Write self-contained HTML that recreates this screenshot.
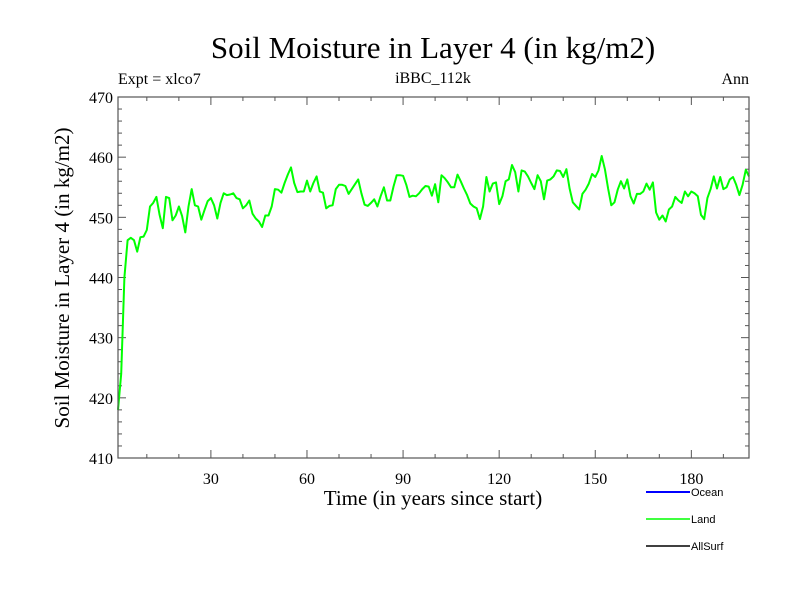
<!DOCTYPE html>
<html><head><meta charset="utf-8"><style>
body{margin:0;background:#fff}
svg text{font-family:"Liberation Serif",serif;fill:#000}
</style></head><body>
<svg id="chart" width="800" height="600" viewBox="0 0 800 600" xmlns="http://www.w3.org/2000/svg">
<rect width="800" height="600" fill="#fff"/>
<text x="433" y="58" font-size="31" text-anchor="middle">Soil Moisture in Layer 4 (in kg/m2)</text>
<text x="118" y="84" font-size="16">Expt = xlco7</text>
<text x="433" y="83" font-size="16" text-anchor="middle">iBBC_112k</text>
<text x="749" y="84" font-size="16" text-anchor="end">Ann</text>
<text transform="translate(69,278) rotate(-90)" font-size="21" text-anchor="middle">Soil Moisture in Layer 4 (in kg/m2)</text>
<text x="433" y="505" font-size="21" text-anchor="middle">Time (in years since start)</text>
<g id="ticks"></g>
<g id="series"></g>
<rect x="118" y="97" width="631" height="361" fill="none" stroke="#555" stroke-width="1.2"/>
<g font-family="Liberation Sans, sans-serif">
<line x1="646" y1="492" x2="690" y2="492" stroke="#0000ff" stroke-width="2"/>
<text x="691" y="496" font-size="11" style="font-family:'Liberation Sans',sans-serif">Ocean</text>
<line x1="646" y1="519" x2="690" y2="519" stroke="#00ff00" stroke-width="1.5"/>
<text x="691" y="523" font-size="11" style="font-family:'Liberation Sans',sans-serif">Land</text>
<line x1="646" y1="546" x2="690" y2="546" stroke="#000" stroke-width="1.5"/>
<text x="691" y="550" font-size="11" style="font-family:'Liberation Sans',sans-serif">AllSurf</text>
</g>
</svg>
<script>
const landValues = [418,424,440,446.2,446.6,446.2,444.3,446.7,446.8,447.9,451.8,452.4,453.4,450.4,448.2,453.4,453.2,449.5,450.3,451.8,450.2,447.5,451.8,454.7,452.0,451.8,449.6,451.2,452.7,453.2,452.0,449.8,452.4,454.0,453.7,453.8,454.0,453.2,453.0,451.5,452.0,452.8,450.6,449.8,449.3,448.4,450.3,450.3,451.8,454.7,454.6,454.1,455.7,457.1,458.3,455.7,454.2,454.3,454.3,456.1,454.3,455.7,456.8,454.3,454.1,451.5,451.9,452.0,454.7,455.4,
455.4,455.2,453.9,454.7,455.5,456.3,454.0,452.1,451.9,452.4,453.0,451.8,453.5,455.0,452.8,452.8,455.1,457.0,457.0,456.9,455.4,453.4,453.6,453.5,454.0,454.7,455.2,455.1,453.6,455.5,452.5,457.0,456.5,455.8,455.0,455.0,457.1,456.0,454.8,453.7,452.3,451.8,451.5,449.7,451.8,456.7,454.3,455.6,455.8,452.2,453.5,456.0,456.3,458.7,457.5,454.3,457.8,457.6,456.8,455.7,454.7,457.0,456.0,453.0,456.1,456.3,456.8,457.8,457.7,456.7,458.0,454.8,452.5,451.9,451.3,453.9,454.6,455.6,457.2,456.7,457.8,460.2,458.0,454.8,452.0,452.5,454.6,456.0,454.8,456.3,453.5,452.3,453.9,453.9,454.3,455.6,454.6,455.8,450.8,449.6,450.3,449.3,451.3,451.8,453.4,452.8,452.4,454.3,453.5,454.3,454.0,453.5,450.4,449.7,453.2,454.7,456.8,454.8,456.7,454.7,455.0,456.3,456.7,455.4,453.7,455.4,457.9,456.8];
const xTickLabels = [30,60,90,120,150,180];
const yTickLabels = [410,420,430,440,450,460,470];
const xMin=1, xMax=198, yMin=410, yMax=470;
const L=118,R=749,T=97,B=458;
function xs(v){return L+(v-xMin)/(xMax-xMin)*(R-L);}
function ys(v){return B-(v-yMin)/(yMax-yMin)*(B-T);}
const NS='http://www.w3.org/2000/svg';
const tg=document.getElementById('ticks');
function ln(x1,y1,x2,y2,name){const l=document.createElementNS(NS,'line');
l.setAttribute('x1',x1);l.setAttribute('y1',y1);l.setAttribute('x2',x2);l.setAttribute('y2',y2);
l.setAttribute('stroke','#555');l.setAttribute('stroke-width','1');


tg.appendChild(l);}
function tx(x,y,s,anchor,name){const t=document.createElementNS(NS,'text');
t.setAttribute('x',x);t.setAttribute('y',y);t.setAttribute('font-size','16');t.setAttribute('text-anchor',anchor);t.textContent=s;


tg.appendChild(t);}
for(let v=10;v<=xMax;v+=10){const x=xs(v);const len=(v%30===0)?8:4;
ln(x,B,x,B-len,'x-tick');ln(x,T,x,T+len,'x-tick-top');}
xTickLabels.forEach(v=>tx(xs(v),B+26,String(v),'middle','x-tick-label'));
for(let v=yMin;v<=yMax;v+=2){const y=ys(v);const len=(v%10===0)?8:4;
ln(L,y,L+len,y,'y-tick');ln(R,y,R-len,y,'y-tick-right');}
yTickLabels.forEach(v=>tx(L-5,ys(v)+6,String(v),'end','y-tick-label'));
const sg=document.getElementById('series');
const p=document.createElementNS(NS,'polyline');
p.setAttribute('points',landValues.map((v,i)=>xs(xMin+i).toFixed(1)+','+ys(v).toFixed(1)).join(' '));
p.setAttribute('fill','none');p.setAttribute('stroke','#00ff00');p.setAttribute('stroke-width','2');p.setAttribute('stroke-linejoin','round');


sg.appendChild(p);
</script>
</body></html>
